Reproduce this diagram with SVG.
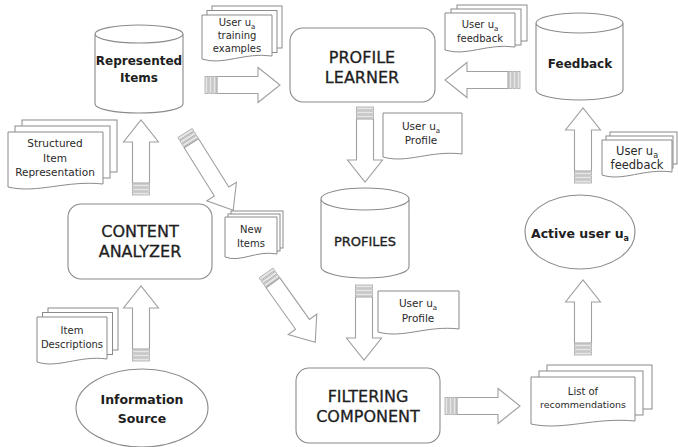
<svg xmlns="http://www.w3.org/2000/svg" xmlns:xlink="http://www.w3.org/1999/xlink" width="678" height="447" viewBox="0 0 678 447">
<style>
.shape{fill:#fff;stroke:#8a8a8a;stroke-width:1.1}
.doc{fill:#fff;stroke:#8a8a8a;stroke-width:1}
.arr{fill:#fff;stroke:#a0a0a0;stroke-width:1.1;stroke-linejoin:miter}
.stripe{fill:#e6e6e6;stroke:#a8a8a8;stroke-width:0.8}
.big{font-family:"DejaVu Sans",Verdana,sans-serif;font-size:16px;fill:#1e1e1e;text-anchor:middle;stroke:#1e1e1e;stroke-width:0.3}
.bold{font-family:"DejaVu Sans",Verdana,sans-serif;font-size:12px;font-weight:bold;fill:#1e1e1e;text-anchor:middle}
.mid{font-family:"DejaVu Sans",Verdana,sans-serif;font-size:13px;fill:#1e1e1e;text-anchor:middle;stroke:#1e1e1e;stroke-width:0.35}
.small{font-family:"DejaVu Sans",Verdana,sans-serif;font-size:10px;fill:#2a2a2a;text-anchor:middle}
</style>
<defs>
<g id="stripes">
<rect class="stripe" x="0" y="-8.5" width="3" height="17"/>
<rect class="stripe" x="4" y="-8.5" width="3" height="17"/>
<rect class="stripe" x="8" y="-8.5" width="3" height="17"/>
</g>
<g id="arr75">
<use xlink:href="#stripes"/>
<path class="arr" d="M12,-8.5 H53 V-17.5 L75,0 L53,17.5 V8.5 H12 Z"/>
</g>
<g id="arr91">
<use xlink:href="#stripes"/>
<path class="arr" d="M12,-8.5 H69 V-17.5 L91,0 L69,17.5 V8.5 H12 Z"/>
</g>
<g id="arr85">
<use xlink:href="#stripes"/>
<path class="arr" d="M12,-8.5 H63 V-17.5 L85,0 L63,17.5 V8.5 H12 Z"/>
</g>
</defs>

<g id="connectors">
<use xlink:href="#arr75" transform="translate(205,85)"/>
<use xlink:href="#arr75" transform="translate(520,80) rotate(180)"/>
<use xlink:href="#arr75" transform="translate(365,107) rotate(90)"/>
<use xlink:href="#arr75" transform="translate(364,285) rotate(90)"/>
<use xlink:href="#arr75" transform="translate(445,406)"/>
<use xlink:href="#arr75" transform="translate(583,355) rotate(-90)"/>
<use xlink:href="#arr75" transform="translate(583,183) rotate(-90)"/>
<use xlink:href="#arr75" transform="translate(141,195) rotate(-90)"/>
<use xlink:href="#arr75" transform="translate(141,361) rotate(-90)"/>
<use xlink:href="#arr91" transform="translate(185,133) rotate(58)"/>
<use xlink:href="#arr85" transform="translate(266,273) rotate(54.6)"/>
</g>

<g id="represented-items">
<path class="shape" d="M95,34 A44,9 0 0,1 183,34 A44,9 0 0,1 95,34 Z M95,34 V104 A44,9 0 0,0 183,104 V34"/>
<text class="bold" x="139" y="65">Represented</text>
<text class="bold" x="139" y="82">Items</text>
</g>

<g id="profile-learner">
<rect class="shape" x="290" y="28" width="145" height="74" rx="13"/>
<text class="big" x="362" y="63">PROFILE</text>
<text class="big" x="362" y="83">LEARNER</text>
</g>

<g id="feedback">
<path class="shape" d="M536,23 A43.5,10 0 0,1 623,23 A43.5,10 0 0,1 536,23 Z M536,23 V90 A43.5,10 0 0,0 623,90 V23"/>
<text class="bold" x="580" y="68">Feedback</text>
</g>

<g id="profiles">
<path class="shape" d="M321,199 A44,11 0 0,1 409,199 A44,11 0 0,1 321,199 Z M321,199 V267 A44,11 0 0,0 409,267 V199"/>
<text class="mid" x="365" y="246">PROFILES</text>
</g>

<g id="content-analyzer">
<rect class="shape" x="68" y="204" width="144" height="75" rx="13"/>
<text class="big" x="140" y="237">CONTENT</text>
<text class="big" x="140" y="257">ANALYZER</text>
</g>

<g id="filtering-component">
<rect class="shape" x="296" y="368" width="144" height="75" rx="13"/>
<text class="big" x="368" y="402">FILTERING</text>
<text class="big" x="368" y="422">COMPONENT</text>
</g>

<g id="information-source">
<ellipse class="shape" cx="142" cy="408" rx="66" ry="39"/>
<text class="bold" x="142" y="404" style="font-size:12.5px">Information</text>
<text class="bold" x="142" y="423" style="font-size:12.5px">Source</text>
</g>

<g id="active-user">
<ellipse class="shape" cx="580" cy="232" rx="55" ry="37"/>
<text class="bold" x="580" y="238" style="font-size:12.5px">Active user u<tspan font-size="8" dy="3">a</tspan></text>
</g>

<g id="doc-training-examples">
<rect class="doc" x="212" y="6" width="70" height="42"/>
<rect class="doc" x="207" y="10.5" width="70" height="42"/>
<path class="doc" d="M202,15 H272 V56 C244,52 223,66 202,59 Z"/>
<text class="small" x="237" y="26">User u<tspan font-size="7" dy="2.5">a</tspan></text>
<text class="small" x="237" y="39">training</text>
<text class="small" x="237" y="52">examples</text>
</g>

<g id="doc-feedback-top">
<rect class="doc" x="457" y="5" width="70" height="36"/>
<rect class="doc" x="451" y="9" width="70" height="36"/>
<path class="doc" d="M445,13 H515 V47 C487,43 466,57 445,50 Z"/>
<text class="small" x="480" y="28">User u<tspan font-size="7" dy="2.5">a</tspan></text>
<text class="small" x="480" y="42">feedback</text>
</g>

<g id="doc-structured-item">
<rect class="doc" x="22" y="120" width="95" height="52"/>
<rect class="doc" x="15" y="126" width="95" height="52"/>
<path class="doc" d="M8,132 H103 V184 C66,180 37,194 8,187 Z"/>
<text class="small" x="55" y="147" style="font-size:10.5px">Structured</text>
<text class="small" x="55" y="162" style="font-size:10.5px">Item</text>
<text class="small" x="55" y="176" style="font-size:10.5px">Representation</text>
</g>

<g id="doc-new-items">
<rect class="doc" x="231" y="211" width="52" height="37"/>
<rect class="doc" x="228" y="214" width="52" height="37"/>
<path class="doc" d="M225,217 H277 V254 C256,250 241,263 225,257 Z"/>
<text class="small" x="251" y="233">New</text>
<text class="small" x="251" y="247">Items</text>
</g>

<g id="doc-item-descriptions">
<rect class="doc" x="48" y="308" width="70" height="42"/>
<rect class="doc" x="42.5" y="312.5" width="70" height="42"/>
<path class="doc" d="M37,317 H107 V359 C79,355 58,369 37,362 Z"/>
<text class="small" x="72" y="334">Item</text>
<text class="small" x="72" y="348">Descriptions</text>
</g>

<g id="doc-profile-upper">
<path class="doc" d="M383,113 H462 V154 C430,150 407,164 383,157 Z"/>
<text class="small" x="421" y="130" style="font-size:10.5px">User u<tspan font-size="7" dy="2.5">a</tspan></text>
<text class="small" x="421" y="144" style="font-size:10.5px">Profile</text>
</g>

<g id="doc-profile-lower">
<path class="doc" d="M378,291 H459 V329 C427,325 403,339 378,332 Z"/>
<text class="small" x="418" y="307" style="font-size:10.5px">User u<tspan font-size="7" dy="2.5">a</tspan></text>
<text class="small" x="418" y="322" style="font-size:10.5px">Profile</text>
</g>

<g id="doc-feedback-right">
<rect class="doc" x="610" y="132" width="67" height="32"/>
<rect class="doc" x="606" y="136" width="67" height="32"/>
<path class="doc" d="M602,140 H672 V172 C644,168 623,182 602,175 Z"/>
<text class="small" x="637" y="155" style="font-size:11.5px">User u<tspan font-size="8" dy="2.5">a</tspan></text>
<text class="small" x="637" y="169" style="font-size:11.5px">feedback</text>
</g>

<g id="doc-recommendations">
<rect class="doc" x="547" y="365" width="105" height="44"/>
<rect class="doc" x="539" y="371" width="104" height="44"/>
<path class="doc" d="M531,377 H635 V421 C594,417 563,431 531,424 Z"/>
<text class="small" x="583" y="395" style="font-size:10px">List of</text>
<text class="small" x="583" y="408" style="font-size:9.5px">recommendations</text>
</g>
</svg>
